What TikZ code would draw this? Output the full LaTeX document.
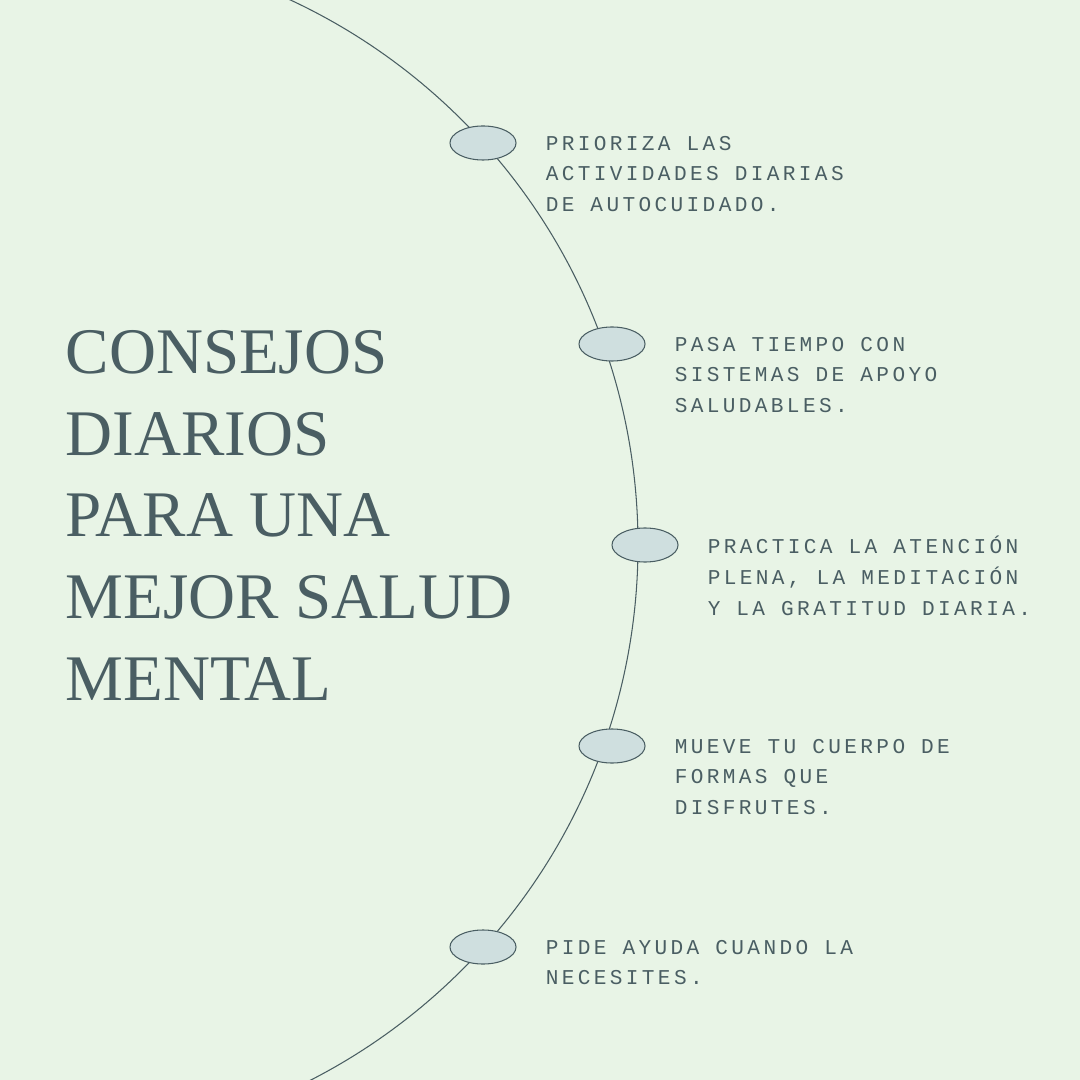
\documentclass[tikz,border=0pt]{standalone}
\usepackage{fontspec}
\usetikzlibrary{shapes.geometric}
\setmainfont{Liberation Serif}
\newfontfamily\tipfont[LetterSpace=16]{Liberation Mono}
\definecolor{bgcol}{HTML}{E8F4E6}
\definecolor{inkcol}{HTML}{4A5E63}
\definecolor{dotcol}{HTML}{CFDFDF}
\begin{document}
\begin{tikzpicture}
[x=0.01cm, y=-0.01cm,
dot/.style={ellipse, draw=inkcol, line width=0.3pt, fill=dotcol, minimum width=0.66cm, minimum height=0.34cm, inner sep=0pt},
tip/.style={anchor=west, align=left, text=inkcol, font=\tipfont\fontsize{6}{8.8}\selectfont, inner sep=0pt},
title/.style={anchor=north west, align=left, text=inkcol, font=\fontsize{18.5}{23.2}\selectfont, inner sep=0pt},
]
\fill[bgcol] (0,0) rectangle (1080,1080);
\useasboundingbox (0,0) rectangle (1080,1080);
\begin{scope}
\clip (0,0) rectangle (1080,1080);
\draw[inkcol, line width=0.3pt] (37.2,545) circle (600.8);
\end{scope}
% title
\node[title] (head) at (65,330) {CONSEJOS\\DIARIOS\\PARA UNA\\MEJOR SALUD\\MENTAL};
% tips
\node[dot] (d1) at (483,143) {};
\node[dot] (d2) at (612,344) {};
\node[dot] (d3) at (645,545) {};
\node[dot] (d4) at (612,746) {};
\node[dot] (d5) at (483,947) {};
\node[tip] (t1) at ([xshift=0.62cm,yshift=-0.31cm]d1) {PRIORIZA LAS\\ACTIVIDADES DIARIAS\\DE AUTOCUIDADO.};
\node[tip] (t2) at ([xshift=0.62cm,yshift=-0.31cm]d2) {PASA TIEMPO CON\\SISTEMAS DE APOYO\\SALUDABLES.};
\node[tip] (t3) at ([xshift=0.62cm,yshift=-0.31cm]d3) {PRACTICA LA ATENCIÓN\\PLENA, LA MEDITACIÓN\\Y LA GRATITUD DIARIA.};
\node[tip] (t4) at ([xshift=0.62cm,yshift=-0.31cm]d4) {MUEVE TU CUERPO DE\\FORMAS QUE\\DISFRUTES.};
\node[tip] (t5) at ([xshift=0.62cm,yshift=-0.155cm]d5) {PIDE AYUDA CUANDO LA\\NECESITES.};
\end{tikzpicture}
\end{document}
